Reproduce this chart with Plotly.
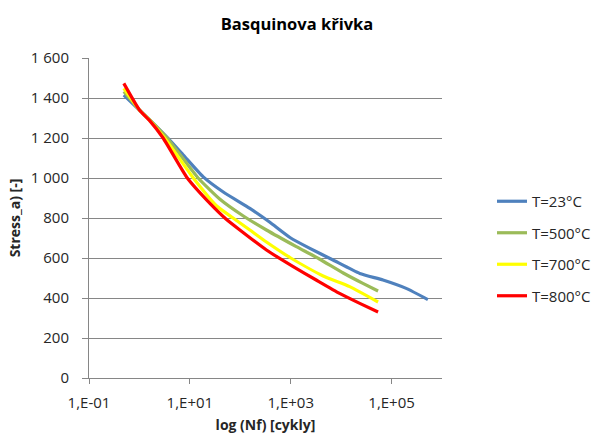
import plotly.graph_objects as go

# Basquin curves: stress amplitude vs. number of cycles to failure
cycles_23 = [0.49, 1.0, 1.58, 3.7, 7.4, 18.2, 46, 155, 380, 1000, 2400, 6900, 23400, 67600, 195000, 525000]
stress_23 = [1415, 1340, 1292, 1198, 1115, 1007, 930, 848, 780, 700, 648, 590, 523, 490, 448, 392]

cycles_500 = [0.49, 1.0, 1.58, 3.55, 14.6, 39, 115, 330, 1290, 3700, 11000, 27000, 54000]
stress_500 = [1432, 1340, 1292, 1200, 1000, 895, 810, 740, 657, 595, 525, 473, 435]

cycles_700 = [0.49, 1.0, 1.58, 3.16, 11.7, 34, 72, 155, 330, 1000, 4400, 14800, 54000]
stress_700 = [1448, 1340, 1290, 1200, 1000, 860, 800, 740, 680, 600, 510, 457, 380]

cycles_800 = [0.49, 1.0, 1.58, 2.95, 8.9, 25, 52, 98, 330, 1120, 3200, 9300, 23400, 54000]
stress_800 = [1473, 1340, 1288, 1200, 1000, 873, 795, 740, 640, 557, 490, 423, 373, 330]

series_names = ["T=23°C", "T=500°C", "T=700°C", "T=800°C"]
series_colors = ["#4F81BD", "#9BBB59", "#FFFF00", "#FF0000"]

x_tick_vals = [0.1, 10, 1000, 100000]
x_tick_text = ["1,E-01", "1,E+01", "1,E+03", "1,E+05"]
y_tick_vals = [0, 200, 400, 600, 800, 1000, 1200, 1400, 1600]
y_tick_text = ["0", "200", "400", "600", "800", "1 000", "1 200", "1 400", "1 600"]

font_family = "'Open Sans', sans-serif"
text_color = "#262626"

fig = go.Figure()
for i, (xs, ys) in enumerate([(cycles_23, stress_23), (cycles_500, stress_500),
                               (cycles_700, stress_700), (cycles_800, stress_800)]):
    fig.add_trace(go.Scatter(
        x=xs, y=ys, mode="lines", name=series_names[i],
        legendgroup=series_names[i],
        line=dict(color=series_colors[i], width=3.2, shape="spline", smoothing=0.5),
    ))

fig.update_layout(
    width=594, height=434,
    margin=dict(l=89, r=152, t=58, b=56, autoexpand=False),
    paper_bgcolor="white", plot_bgcolor="white",
    font=dict(family=font_family, size=15, color=text_color),
    title=dict(text="<b>Basquinova křivka</b>", x=0.5, xanchor="center",
               y=1 - 24 / 434, yanchor="middle", font=dict(size=16.5, color="#000000")),
    legend=dict(xref="container", x=492 / 594, xanchor="left",
                yref="container", y=1 - 185 / 434, yanchor="top",
                tracegroupgap=9, font=dict(size=15, color=text_color),
                bgcolor="rgba(0,0,0,0)"),
    xaxis=dict(
        type="log", range=[-1, 6], automargin=False,
        tickvals=x_tick_vals, ticktext=x_tick_text,
        showgrid=False, zeroline=False,
        showline=True, linecolor="#868686", linewidth=1,
        ticks="outside", tickcolor="#868686", ticklen=5,
        ticklabelstandoff=6,
        tickfont=dict(size=15),
        title=dict(text="<b>log (Nf) [cykly]</b>", font=dict(size=14, color=text_color), standoff=10),
    ),
    yaxis=dict(
        range=[0, 1600], automargin=False,
        tickvals=y_tick_vals, ticktext=y_tick_text,
        showgrid=True, gridcolor="#868686", gridwidth=1,
        zeroline=False,
        showline=True, linecolor="#868686", linewidth=1,
        ticks="outside", tickcolor="#868686", ticklen=6,
        ticklabelstandoff=10,
        tickfont=dict(size=15),
        title=dict(text="<b>Stress_a) [-]</b>", font=dict(size=14, color=text_color), standoff=6),
    ),
)

fig.write_html("out.html")
